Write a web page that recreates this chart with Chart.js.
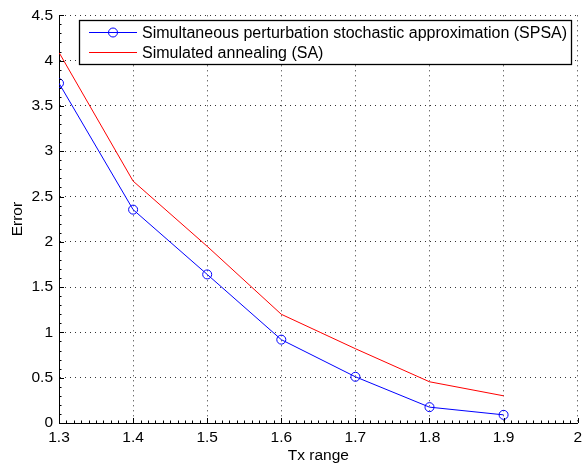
<!DOCTYPE html>
<html>
<head>
<meta charset="utf-8">
<script src="https://cdn.jsdelivr.net/npm/chart.js@4.4.0/dist/chart.umd.min.js"></script>
<style>
  html, body { margin: 0; padding: 0; background: #fff; }
  #wrap { width: 587px; height: 469px; position: relative; }
</style>
</head>
<body>
<div id="wrap"><canvas id="c" width="587" height="469"></canvas></div>
<script>
const txRange = [1.3, 1.4, 1.5, 1.6, 1.7, 1.8, 1.9];
const spsaError = [3.75, 2.355, 1.64, 0.92, 0.51, 0.175, 0.09];
const saError = [4.09, 2.67, 1.95, 1.20, 0.82, 0.455, 0.30];
const seriesLabels = ['Simultaneous perturbation stochastic approximation (SPSA)', 'Simulated annealing (SA)'];
const xTitle = 'Tx range';
const yTitle = 'Error';

const FONT = 'Liberation Sans, Arial, Helvetica, sans-serif';

const minorTicks = {
  id: 'minorTicks',
  afterDatasetsDraw(chart) {
    const ctx = chart.ctx;
    const xs = chart.scales.x, ys = chart.scales.y;
    const a = chart.chartArea;
    ctx.save();
    ctx.strokeStyle = '#000';
    ctx.lineWidth = 1;
    ctx.beginPath();
    for (let i = 0; i <= 70; i++) {
      const v = 1.3 + i * 0.01;
      const px = Math.round(xs.getPixelForValue(v)) + 0.5;
      const len = (i % 10 === 0) ? 5 : 2.5;
      ctx.moveTo(px, a.bottom);
      ctx.lineTo(px, a.bottom - len);
    }
    for (let i = 0; i <= 45; i++) {
      const v = i * 0.1;
      const py = Math.round(ys.getPixelForValue(v)) + 0.5;
      const len = (i % 5 === 0) ? 5 : 2.5;
      ctx.moveTo(a.left, py);
      ctx.lineTo(a.left + len, py);
    }
    ctx.stroke();
    ctx.restore();
  }
};

const boxLegend = {
  id: 'boxLegend',
  afterDraw(chart) {
    const ctx = chart.ctx;
    const ds = chart.data.datasets;
    const bx = 79.5, by = 20.5, bw = 492, bh = 44;
    ctx.save();
    ctx.fillStyle = '#fff';
    ctx.fillRect(bx, by, bw, bh);
    ctx.strokeStyle = '#000';
    ctx.lineWidth = 1.3;
    ctx.strokeRect(bx, by, bw, bh);
    const rows = [32.5, 52.5];
    ctx.font = '16px ' + FONT;
    ctx.textBaseline = 'middle';
    ctx.fillStyle = '#000';
    ds.forEach((d, i) => {
      const y = rows[i];
      ctx.strokeStyle = d.borderColor;
      ctx.lineWidth = 1;
      ctx.beginPath();
      ctx.moveTo(89, y);
      ctx.lineTo(137, y);
      ctx.stroke();
      if (d.pointRadius > 0) {
        ctx.beginPath();
        ctx.arc(113, y, 4.5, 0, Math.PI * 2);
        ctx.stroke();
      }
      ctx.fillStyle = '#000';
      ctx.fillText(d.label, 142, y + 1);
    });
    ctx.restore();
  }
};

new Chart(document.getElementById('c'), {
  type: 'line',
  data: {
    datasets: [
      {
        label: seriesLabels[0],
        data: txRange.map((x, i) => ({ x: x, y: spsaError[i] })),
        borderColor: '#0000ff',
        backgroundColor: 'rgba(0,0,0,0)',
        borderWidth: 1,
        pointRadius: 4.5,
        pointBorderWidth: 1,
        pointBorderColor: '#0000ff',
        pointBackgroundColor: 'rgba(0,0,0,0)',
        tension: 0
      },
      {
        label: seriesLabels[1],
        data: txRange.map((x, i) => ({ x: x, y: saError[i] })),
        borderColor: '#ff0000',
        backgroundColor: 'rgba(0,0,0,0)',
        borderWidth: 1,
        pointRadius: 0,
        tension: 0
      }
    ]
  },
  options: {
    responsive: false,
    animation: false,
    devicePixelRatio: 1,
    layout: { padding: { top: 12, right: 8, left: 0, bottom: 0 } },
    plugins: { legend: { display: false }, tooltip: { enabled: false } },
    scales: {
      x: {
        type: 'linear',
        min: 1.3, max: 2,
        afterFit(s) { s.height = 46; },
        ticks: {
          stepSize: 0.1,
          padding: 5,
          color: '#000',
          font: { family: FONT, size: 15.5 },
          maxRotation: 0,
          callback: (v) => { const r = Math.round(v * 10) / 10; return r === 2 ? '2' : r.toFixed(1); }
        },
        grid: { color: '#333', lineWidth: 1, drawTicks: false },
        border: { display: true, color: '#000', width: 1, dash: [1, 4] },
        title: { display: true, text: xTitle, color: '#000', font: { family: FONT, size: 15.5 }, padding: { top: 0, bottom: 4 } }
      },
      y: {
        min: 0, max: 4.5,
        afterFit(s) { s.width = 59; },
        ticks: {
          stepSize: 0.5,
          padding: 6,
          color: '#000',
          font: { family: FONT, size: 15.5 },
          callback: (v) => String(Math.round(v * 10) / 10)
        },
        grid: { color: '#333', lineWidth: 1, drawTicks: false },
        border: { display: true, color: '#000', width: 1, dash: [1, 4] },
        title: { display: true, text: yTitle, color: '#000', font: { family: FONT, size: 15.5 }, padding: { top: 8, bottom: 0 } }
      }
    }
  },
  plugins: [minorTicks, boxLegend]
});
</script>
</body>
</html>
